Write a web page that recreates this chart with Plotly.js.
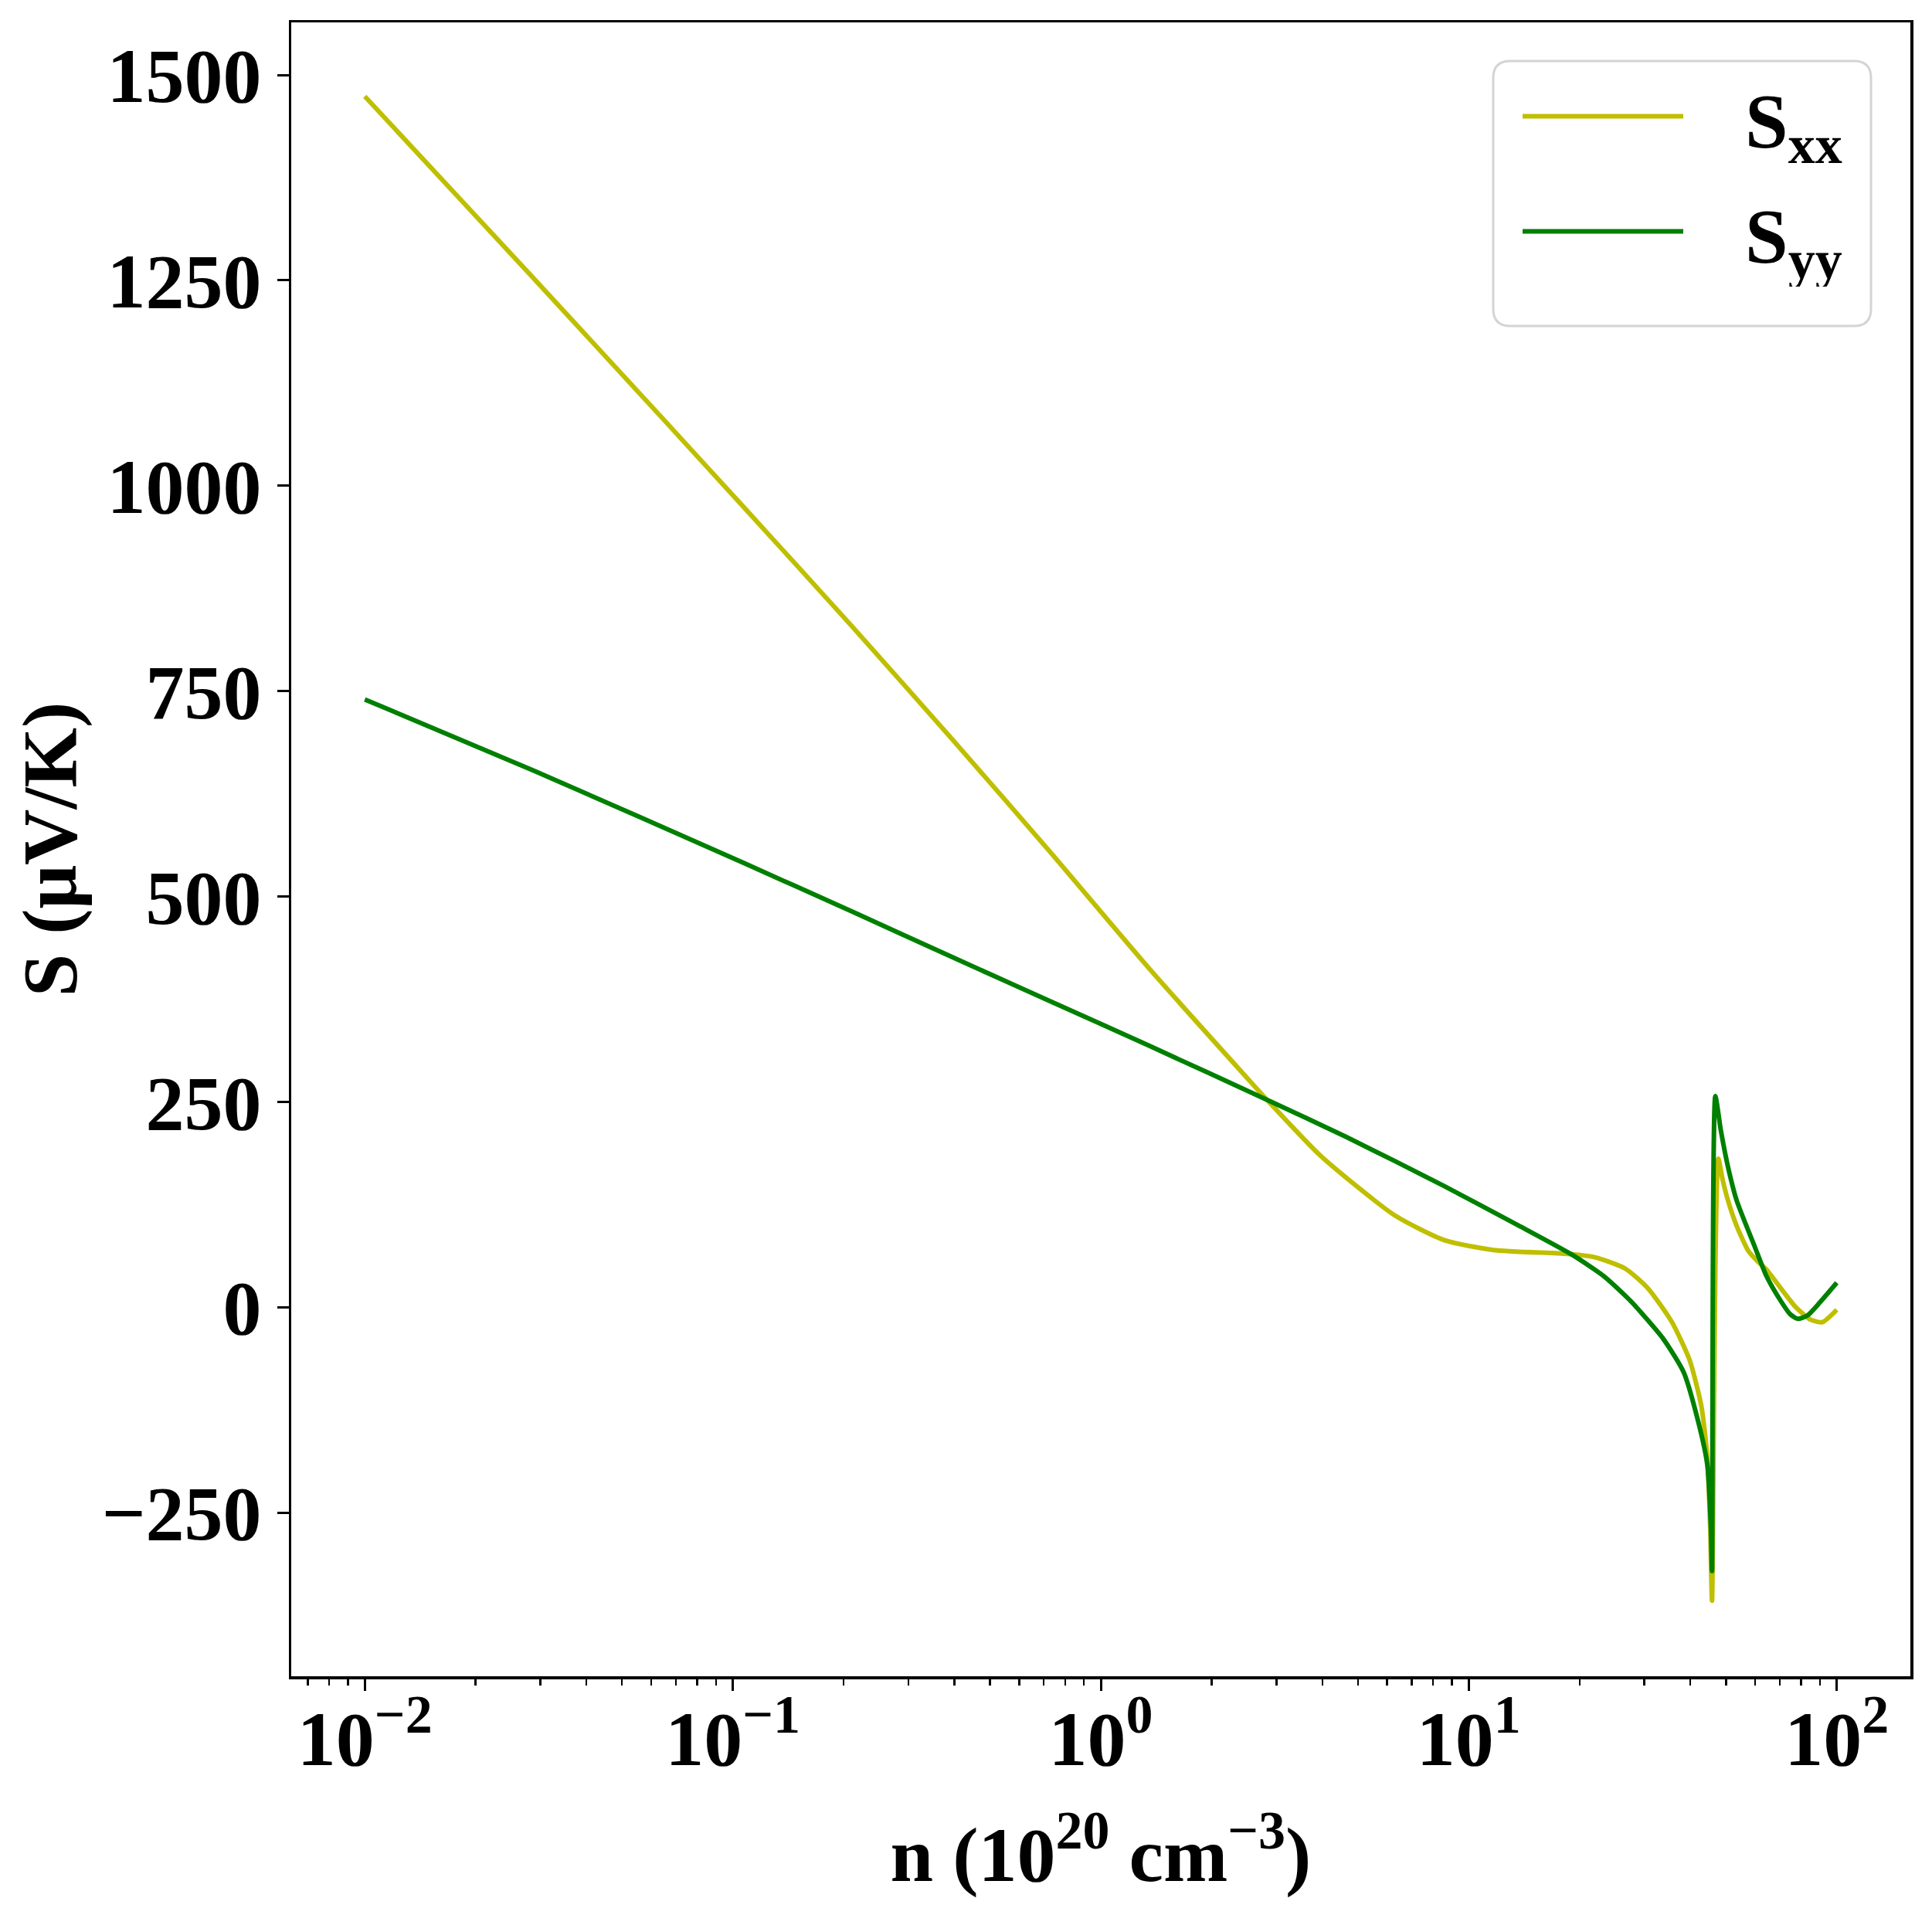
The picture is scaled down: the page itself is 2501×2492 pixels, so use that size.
<!DOCTYPE html>
<html>
<head>
<meta charset="utf-8">
<script src="https://cdn.plot.ly/plotly-3.0.1.min.js"></script>
<style>html,body{margin:0;padding:0;background:#fff;}#chart{width:2501px;height:2492px;}</style>
</head>
<body>
<div id="chart"></div>
<script>
// Carrier concentration n (10^20 cm^-3) and Seebeck coefficients S (µV/K)
const nXX = [0.01, 0.02788, 0.06412, 0.1081, 0.1472, 0.2126, 0.3938, 0.7295, 1.3505, 2.5003, 2.828, 3.972, 6.301, 8.570, 11.67, 18.54, 22.03, 26.66, 30.76, 35.65, 39.81, 42.85, 44.46, 45.29, 45.81, 47.64, 48.98, 50.63, 53.46, 57.54, 60.95, 64.42, 70.63, 77.45, 84.92, 91.41, 100];
const sXX = [1474, 1259, 1083, 972, 906, 827, 692, 554, 413, 279, 252.7, 183.7, 111.8, 81.9, 69.8, 65, 61, 47, 22.6, -18, -64, -120, -181, -268, -357, 181, 155, 130, 99, 68.5, 56, 46, 22.6, 0, -15, -18, -3];
const nYY = [0.01, 0.02906, 0.1081, 0.2126, 0.3938, 0.7295, 1.3505, 2.828, 4.632, 8.570, 13.61, 19.10, 23.28, 26.66, 28.05, 33.73, 38.37, 42.07, 44.46, 45.50, 45.81, 46.77, 48.39, 50.63, 53.46, 59.84, 64.42, 70.63, 74.6, 78.3, 83.18, 89.95, 100];
const sYY = [740, 652.5, 540, 481, 426.5, 372.5, 318.6, 252.7, 207.7, 147.7, 100, 64, 38, 14, 4, -38, -79, -140, -191, -268, -321, 257, 216, 171, 130, 74, 38, 7, -8, -14, -10, 6, 30];
const seriesNames = ['S<sub>xx</sub>', 'S<sub>yy</sub>'];
const yTicks = [-250, 0, 250, 500, 750, 1000, 1250, 1500];
const xTickVals = [0.01, 0.1, 1, 10, 100];
const xTickText = ['10<sup>−2</sup>', '10<sup>−1</sup>', '10<sup>0</sup>', '10<sup>1</sup>', '10<sup>2</sup>'];

const FONT = 'Liberation Serif, Times New Roman, serif';
const bigFont = {family: FONT, size: 100, color: 'black', weight: 'bold'};
const traces = [
  {x: nXX, y: sXX, name: '\u00a0\u00a0\u00a0' + seriesNames[0], legendgroup: 'a', type: 'scatter', mode: 'lines',
   line: {color: '#bfbf00', width: 6, shape: 'spline', smoothing: 0.6}},
  {x: nYY, y: sYY, name: '\u00a0\u00a0\u00a0' + seriesNames[1], legendgroup: 'b', type: 'scatter', mode: 'lines',
   line: {color: '#008000', width: 6, shape: 'spline', smoothing: 0.6}}
];

// legend frame (rounded box) in paper coordinates
const L = 377, T = 29, W = 2096, H = 2141;
const bx0 = (1933 - L) / W, bx1 = (2422 - L) / W;
const byT = 1 - (79 - T) / H, byB = 1 - (422 - T) / H;
const rx = 22 / W, ry = 22 / H;
const boxPath = `M${bx0 + rx},${byT} L${bx1 - rx},${byT} Q${bx1},${byT} ${bx1},${byT - ry} L${bx1},${byB + ry} Q${bx1},${byB} ${bx1 - rx},${byB} L${bx0 + rx},${byB} Q${bx0},${byB} ${bx0},${byB + ry} L${bx0},${byT - ry} Q${bx0},${byT} ${bx0 + rx},${byT} Z`;

const axisCommon = {
  showline: true, linecolor: 'black', linewidth: 3.5, mirror: true,
  showgrid: false, zeroline: false,
  ticks: 'outside', ticklen: 15, tickwidth: 3, tickcolor: 'black',
  tickfont: bigFont
};

const layout = {
  width: 2501, height: 2492,
  margin: {l: 377, r: 28, t: 29, b: 322, pad: 0},
  paper_bgcolor: 'white', plot_bgcolor: 'white',
  font: bigFont,
  showlegend: true,
  legend: {
    x: (1966 - L) / W, y: byT, xanchor: 'left', yanchor: 'top',
    bgcolor: 'rgba(0,0,0,0)', borderwidth: 0,
    font: bigFont, itemwidth: 208, traceorder: 'grouped', tracegroupgap: 16
  },
  shapes: [{type: 'path', xref: 'paper', yref: 'paper', path: boxPath,
            line: {color: '#d4d4d4', width: 3}, fillcolor: 'white', layer: 'above'}],
  xaxis: Object.assign({}, axisCommon, {
    type: 'log', range: [-2.2, 2.2],
    tickvals: xTickVals, ticktext: xTickText, ticklabelstandoff: -24,
    minor: {ticks: 'outside', ticklen: 8, tickwidth: 2.5, tickcolor: 'black', dtick: 'D1', showgrid: false},
    title: {text: 'n (10<sup>20</sup> cm<sup>−3</sup>)', font: bigFont, standoff: 60}
  }),
  yaxis: Object.assign({}, axisCommon, {
    range: [-449, 1564], tickvals: yTicks,
    title: {text: 'S (μV/K)', font: bigFont, standoff: 0}
  })
};

Plotly.newPlot('chart', traces, layout, {displayModeBar: false, staticPlot: true});
</script>
</body>
</html>
